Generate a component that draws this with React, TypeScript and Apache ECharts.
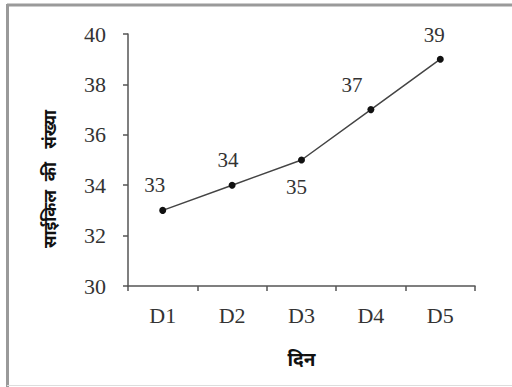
import React, { useEffect, useRef } from "react";
import * as echarts from "echarts";

const categories = ["D1", "D2", "D3", "D4", "D5"];
const values = [33, 34, 35, 37, 39];
const labelOffsets: [number, number][] = [[-8, -25], [-4, -25], [-5, 27], [-19, -25], [-6, -24]];
const yTicks = [30, 32, 34, 36, 38, 40];
const yName = "साईकिल  की   संख्या";
const xName = "दिन";

export default function App() {
  const ref = useRef<HTMLDivElement>(null);
  useEffect(() => {
    const chart = echarts.init(ref.current!, null, { renderer: "svg" });
    const serif = "Liberation Serif";
    chart.setOption({
      animation: false,
      backgroundColor: "#ffffff",
      graphic: [
        { type: "line", shape: { x1: 7, y1: 5, x2: 512, y2: 5 }, style: { stroke: "#9a9a9a", lineWidth: 3 } },
        { type: "line", shape: { x1: 7.5, y1: 4, x2: 7.5, y2: 387 }, style: { stroke: "#9a9a9a", lineWidth: 3 } },
        { type: "line", shape: { x1: 7, y1: 385.5, x2: 512, y2: 385.5 }, style: { stroke: "#dddddd", lineWidth: 1 } },
        {
          type: "text",
          x: 49,
          y: 179,
          rotation: Math.PI / 2,
          style: {
            text: yName,
            font: "bold 17px 'Noto Sans'",
            fill: "#111",
            align: "center",
            verticalAlign: "middle",
          },
        },
      ],
      grid: { left: 128, right: 37, top: 34, bottom: 101 },
      xAxis: {
        type: "category",
        data: categories,
        boundaryGap: true,
        name: xName,
        nameLocation: "middle",
        nameGap: 63,
        nameTextStyle: { fontFamily: "Noto Sans", fontWeight: "bold", fontSize: 19, color: "#111" },
        axisLine: { lineStyle: { color: "#555", width: 1.5 } },
        axisTick: { show: true, length: 5, alignWithLabel: false, lineStyle: { color: "#555", width: 1.5 } },
        axisLabel: { fontFamily: serif, fontSize: 22, color: "#333", margin: 18 },
        splitLine: { show: false },
      },
      yAxis: {
        type: "value",
        min: yTicks[0],
        max: yTicks[yTicks.length - 1],
        interval: 2,
        axisLine: { show: true, lineStyle: { color: "#555", width: 1.5 } },
        axisTick: { show: true, length: 5, lineStyle: { color: "#555", width: 1.5 } },
        axisLabel: { fontFamily: serif, fontSize: 22, color: "#333", margin: 22 },
        splitLine: { show: false },
      },
      series: [
        {
          type: "line",
          data: values.map((v, i) => ({
            value: v,
            label: { offset: labelOffsets[i] },
          })),
          symbol: "circle",
          symbolSize: 7,
          itemStyle: { color: "#111" },
          lineStyle: { color: "#444", width: 1.5 },
          label: { show: true, position: "inside", fontFamily: serif, fontSize: 21, color: "#333" },
        },
      ],
    });
    return () => chart.dispose();
  }, []);
  return <div ref={ref} style={{ position: "fixed", left: 0, top: 0, width: 512, height: 387 }} />;
}
